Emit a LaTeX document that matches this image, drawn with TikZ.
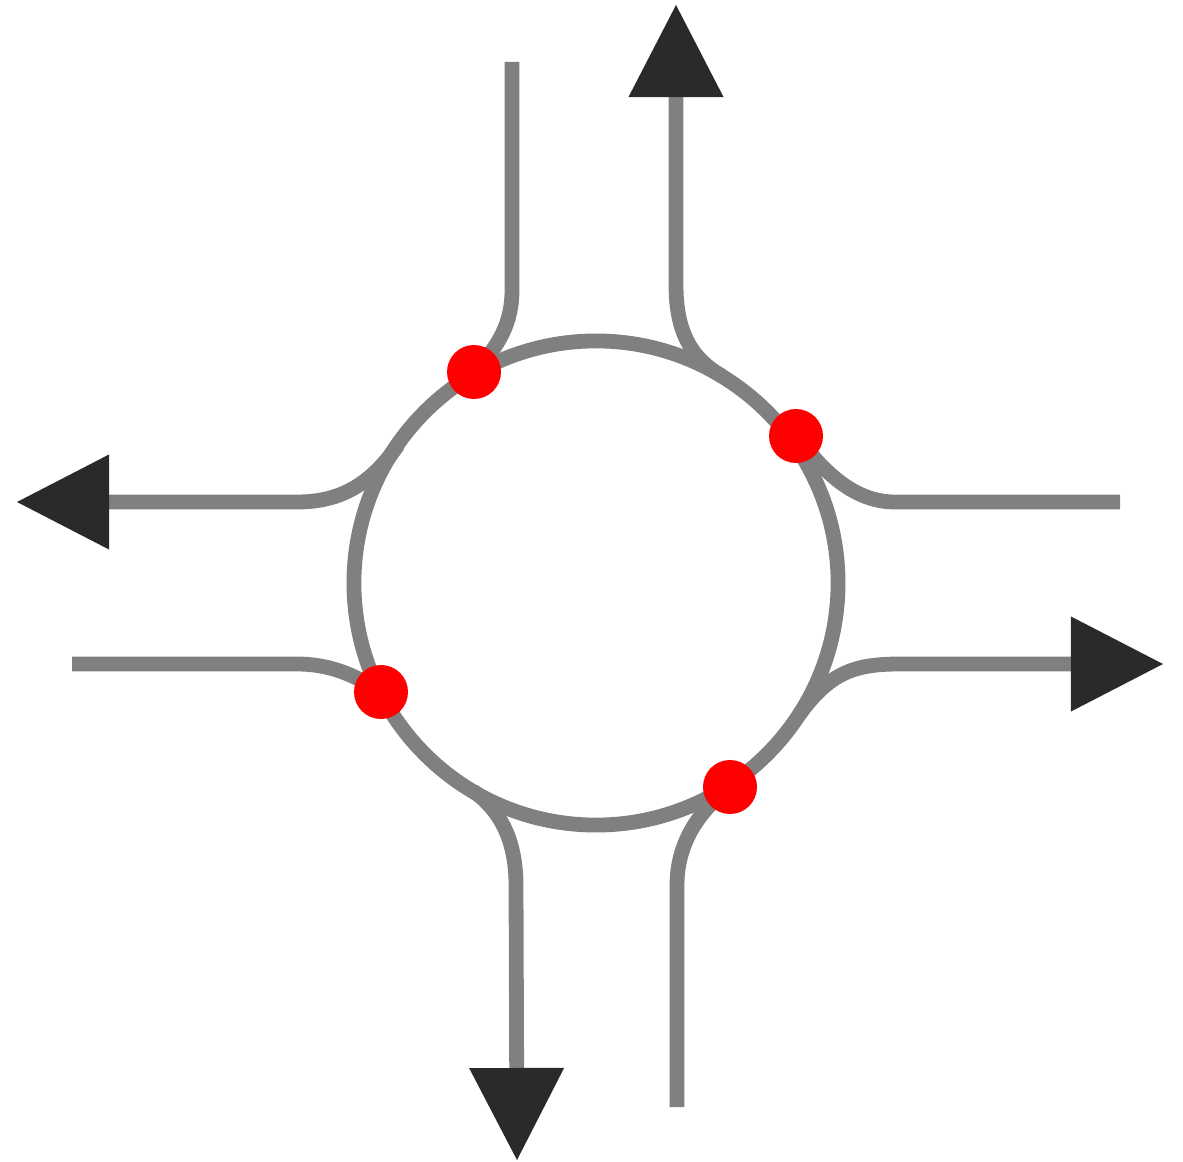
\documentclass[tikz,border=0pt]{standalone}
\usepackage{tikz}
\usetikzlibrary{arrows.meta}

\definecolor{roadgray}{RGB}{128,128,128}
\definecolor{tipdark}{RGB}{43,42,40}

\begin{document}
\begin{tikzpicture}[
        x={(0.025cm,0)}, y={(0,-0.025cm)},
        road/.style={draw=roadgray, line width=0.37cm},
        outlet/.style={road, -{Triangle[length=2.3cm, width=2.375cm, color=tipdark, line width=0pt]}},
        conflict/.style={circle, fill=red, inner sep=0pt, minimum size=1.35cm}
    ]
    \useasboundingbox (0,0) rectangle (1183,1162);

    % Ring
    \coordinate (center) at (596,583);
    \draw[road] (center) circle[radius=6.05cm];

    % Conflict points on the ring
    \coordinate (pTL) at (474,372);
    \coordinate (pTR) at (796,436);
    \coordinate (pBL) at (381,692);
    \coordinate (pBR) at (730,787);

    % Merge points of the exits
    \coordinate (mTop) at (722,376);
    \coordinate (mLeft) at (398,445);
    \coordinate (mBottom) at (473,791);
    \coordinate (mRight) at (799,715);

    % Arm ends
    \coordinate (inTop) at (512,62);
    \coordinate (inRight) at (1120,502);
    \coordinate (inBottom) at (677,1107);
    \coordinate (inLeft) at (72,664);
    \coordinate (outTop) at (676,5);
    \coordinate (outLeft) at (17,502);
    \coordinate (outBottom) at (517,1160);
    \coordinate (outRight) at (1163,664);

    % Entries
    \draw[road] (inTop) -- (512,290) .. controls (512,322) and (500,345) .. (pTL);
    \draw[road] (inRight) -- (895,502) .. controls (850,502) and (820,466) .. (pTR);
    \draw[road] (inBottom) -- (677,885) .. controls (677,842) and (700,810) .. (pBR);
    \draw[road] (inLeft) -- (297,664) .. controls (330,664) and (355,675) .. (pBL);

    % Exits
    \draw[outlet] (mTop) .. controls (690,358) and (676,330) .. (676,285) -- (outTop);
    \draw[outlet] (mLeft) .. controls (370,485) and (340,502) .. (297,502) -- (outLeft);
    \draw[outlet] (mBottom) .. controls (500,810) and (516,840) .. (516,885) -- (outBottom);
    \draw[outlet] (mRight) .. controls (830,672) and (855,664) .. (900,664) -- (outRight);

    % Conflict markers
    \foreach \p in {pTL, pTR, pBL, pBR}
        \node[conflict] (dot-\p) at (\p) {};

\end{tikzpicture}
\end{document}
